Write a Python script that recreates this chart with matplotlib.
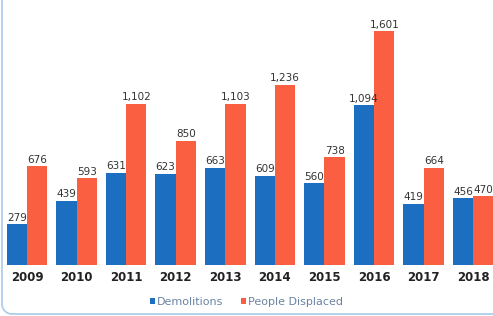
"""Demolitions vs people displaced, 2009-2018 grouped bar chart."""

import matplotlib
matplotlib.use("Agg")
import matplotlib.pyplot as plt
from matplotlib.lines import Line2D
import numpy as np

years = ["2009", "2010", "2011", "2012", "2013", "2014", "2015", "2016", "2017", "2018"]
demolitions = [279, 439, 631, 623, 663, 609, 560, 1094, 419, 456]
displaced = [676, 593, 1102, 850, 1103, 1236, 738, 1601, 664, 470]

BLUE = "#1c6ec0"
RED = "#f95f40"

plt.rcParams["font.family"] = ["DejaVu Sans"]

fig = plt.figure(figsize=(4.93, 3.16), dpi=100)
ax = fig.add_axes([0, 51 / 316, 1, 255 / 316])

x = np.arange(len(years))
w = 0.41
b1 = ax.bar(x - w / 2, demolitions, w, color=BLUE, label="Demolitions")
b2 = ax.bar(x + w / 2, displaced, w, color=RED, label="People Displaced")

for bars, vals in ((b1, demolitions), (b2, displaced)):
    for bar, v in zip(bars, vals):
        ax.text(bar.get_x() + bar.get_width() / 2, v + 12, f"{v:,}",
                ha="center", va="bottom", fontsize=7.5, color="#333333")

ax.set_xlim(-0.545, 9.4)
ax.set_ylim(0, 1747)
ax.set_xticks(x)
ax.set_xticklabels(years, fontsize=8.5, fontweight="bold", color="#222222")
ax.tick_params(axis="x", length=0, pad=4)
ax.set_yticks([])
for s in ax.spines.values():
    s.set_visible(False)

leg = fig.legend(handles=[b1, b2], loc="center", bbox_to_anchor=(0.5, 14 / 316),
                 ncol=2, frameon=False, fontsize=8, handlelength=0.45,
                 handleheight=0.45, handletextpad=0.2, columnspacing=1.6)
for t in leg.get_texts():
    t.set_color("#6a84a3")

# light card border: left edge with a rounded bottom-left corner
r = 10
t = np.linspace(np.pi, 1.5 * np.pi, 20)
bx = np.concatenate([[2], 2 + r + r * np.cos(t), [493]]) / 493
by = np.concatenate([[316], 2 + r + r * np.sin(t), [2]]) / 316
fig.lines.append(Line2D(bx, by, transform=fig.transFigure,
                        color="#a9cbe8", linewidth=1.2))

fig.savefig("out.png", dpi=100)
